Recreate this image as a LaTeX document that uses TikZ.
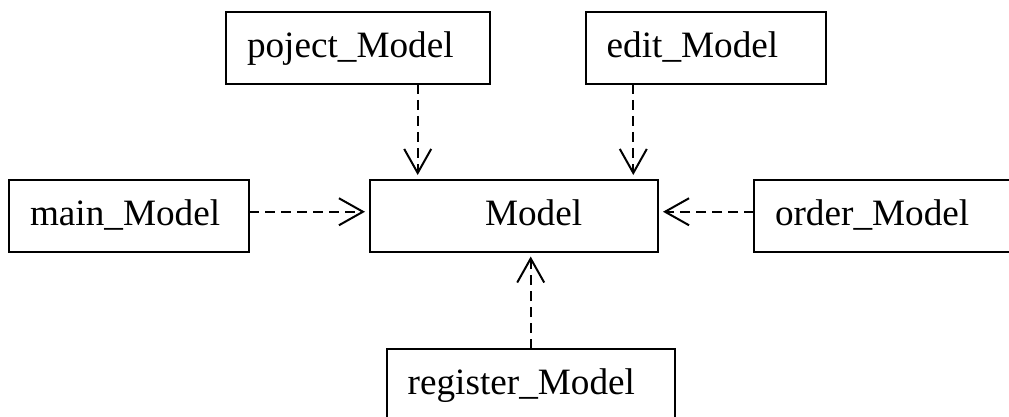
\documentclass[tikz,border=0pt]{standalone}
\usepackage{fontspec}
\setmainfont{Liberation Serif}
\usetikzlibrary{arrows.meta}

\tikzset{
  modelbox/.style 2 args={
    draw, rectangle, line width=2pt, outer sep=0pt,
    anchor=north west, inner xsep=21pt, inner ysep=0pt,
    text width=#1-42pt, align=left,
    text height=45pt, text depth=26.5pt,
    font=\fontsize{37.2}{40}\selectfont
  },
  dep/.style={
    line width=2pt, dash pattern=on 10pt off 6pt,
    -{Straight Barb[length=24pt,width=27pt,line width=2pt]},
    shorten >=5pt
  }
}

\begin{document}
\begin{tikzpicture}[x=1pt,y=-1pt]
  \fill[white] (0,0) rectangle (1009,416);
  \useasboundingbox (0,0) rectangle (1009,416);
  \clip (0,0) rectangle (1009,416);

  % class boxes
  \node[modelbox={264pt}{}] (poject)   at (226,12.3)  {poject\_Model};
  \node[modelbox={240pt}{}] (edit)     at (585.7,12.3) {edit\_Model};
  \node[modelbox={240pt}{}] (main)     at (9,180)     {main\_Model};
  \node[modelbox={288pt}{}, inner xsep=0pt, text width=288pt]
                            (Model)    at (370,180)   {\hspace*{115pt}Model};
  \node[modelbox={264pt}{}] (order)    at (754,180)   {order\_Model};
  \node[modelbox={288pt}{}] (register) at (386.7,349) {register\_Model};

  % dependencies
  \draw[dep] ([xshift=47.7pt]Model.north west |- poject.south)
          -- ([xshift=47.7pt]Model.north west);
  \draw[dep] ([xshift=47.6pt]edit.south west)
          -- ([xshift=47.6pt]edit.south west |- Model.north);
  \draw[dep] ([yshift=4pt]main.east) -- ([yshift=4pt]Model.west);
  \draw[dep] ([yshift=4pt]order.west) -- ([yshift=4pt]Model.east);
  \draw[dep] (register.north) -- (register.north |- Model.south);
\end{tikzpicture}
\end{document}
